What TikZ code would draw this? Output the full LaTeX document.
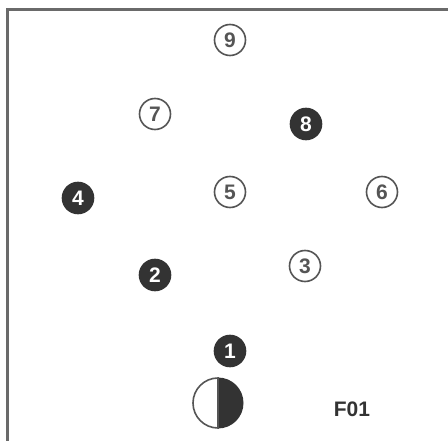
\documentclass[tikz,border=0pt]{standalone}
\usepackage{fontspec}
\setmainfont{Liberation Sans}
\definecolor{ink}{HTML}{333333}
\definecolor{ring}{HTML}{555555}
\definecolor{frame}{HTML}{6A6A6A}
\begin{document}
\begin{tikzpicture}[x=1pt,y=-1pt,
  openc/.style={circle,draw=ring,line width=1.6pt,fill=white,minimum size=31pt,inner sep=0pt,text=ring,font=\fontsize{21}{21}\selectfont\bfseries},
  fillc/.style={circle,draw=ink,line width=1.6pt,fill=ink,minimum size=31pt,inner sep=0pt,text=white,font=\fontsize{21}{21}\selectfont\bfseries}]
\useasboundingbox (0,0) rectangle (448,441);
\fill[white] (0,0) rectangle (448,441);
\draw[frame,line width=3pt] (7.5,441) -- (7.5,9.5) -- (448,9.5);
\node[openc] (n9) at (230,40) {9};
\node[openc] (n7) at (155,114) {7};
\node[fillc] (n8) at (306,124) {8};
\node[fillc] (n4) at (78,198) {4};
\node[openc] (n5) at (230,192) {5};
\node[openc] (n6) at (382,192) {6};
\node[fillc] (n2) at (155,275) {2};
\node[openc] (n3) at (305,266) {3};
\node[fillc] (n1) at (230,351) {1};
\coordinate (moon) at (218,403);
\fill[ink] (moon) ++(0,-25.5) arc[start angle=90,end angle=-90,radius=25.5pt] -- cycle;
\draw[ring,line width=1.6pt] (moon) ++(0,-25) arc[start angle=90,end angle=270,radius=25pt] -- cycle;
\node[text=ink,font=\fontsize{21}{21}\selectfont\bfseries] (label) at (352,409) {F01};
\end{tikzpicture}
\end{document}
